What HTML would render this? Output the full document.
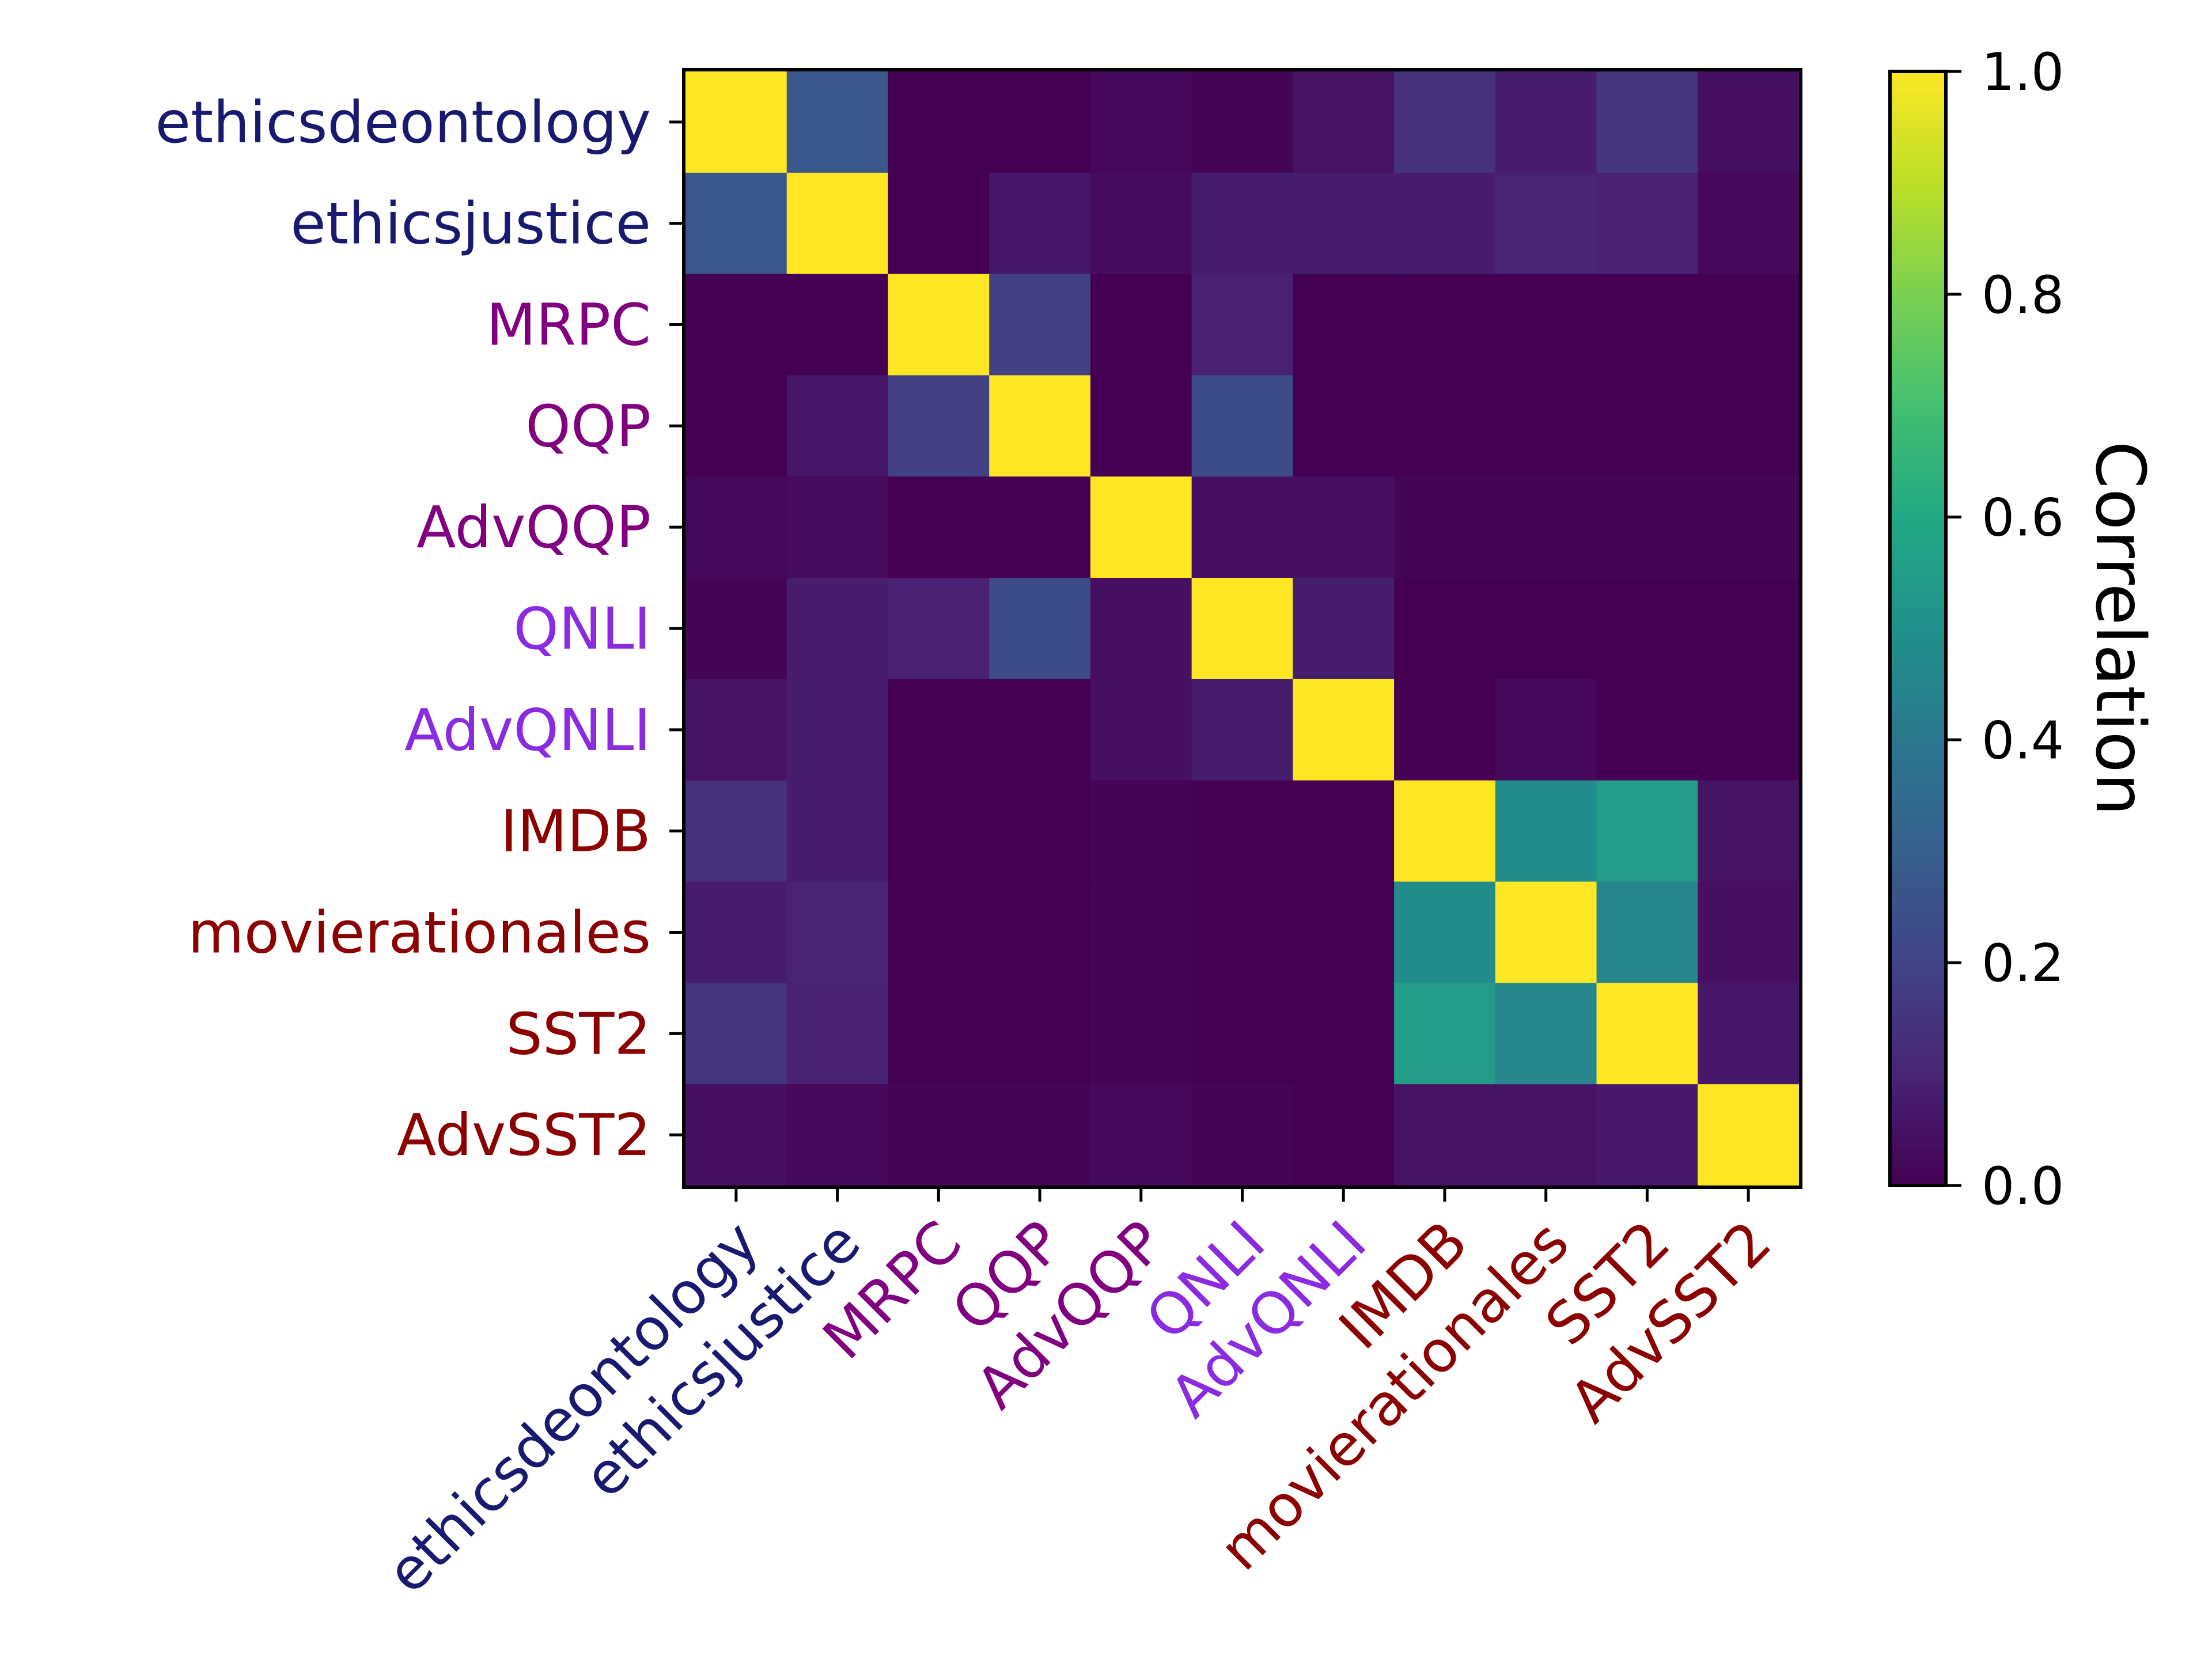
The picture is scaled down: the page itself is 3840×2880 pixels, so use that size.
<!DOCTYPE html>
<html><head><meta charset="utf-8"><style>
html,body{margin:0;padding:0;background:#fff;}
svg{display:block;font-family:"DejaVu Sans","Liberation Sans",sans-serif;}
</style></head><body>
<svg id="chart" width="3840" height="2880" viewBox="0 0 3840 2880" xmlns="http://www.w3.org/2000/svg">
<defs><linearGradient id="vir" x1="0" y1="1" x2="0" y2="0"></linearGradient></defs>
<g id="cells"></g>
<g id="axes"></g>
<g id="cbar"></g>
</svg>
<script>
const categories = ["ethicsdeontology","ethicsjustice","MRPC","QQP","AdvQQP","QNLI","AdvQNLI","IMDB","movierationales","SST2","AdvSST2"];
const labelColors = ["#191970","#191970","#800080","#800080","#800080","#8a2be2","#8a2be2","#8b0000","#8b0000","#8b0000","#8b0000"];
const row0  = [1,0.27,0.0,0.0,0.02,0.01,0.05,0.14,0.08,0.15,0.04];
const row1  = [0.27,1,0.0,0.06,0.03,0.08,0.08,0.08,0.1,0.09,0.02];
const row2  = [0.0,0.0,1,0.19,0.0,0.09,0.0,0.0,0.0,0.0,0.0];
const row3  = [0.0,0.06,0.19,1,0.0,0.23,0.0,0.0,0.0,0.0,0.0];
const row4  = [0.02,0.03,0.0,0.0,1,0.04,0.04,0.01,0.01,0.01,0.01];
const row5  = [0.01,0.08,0.09,0.23,0.04,1,0.08,0.0,0.0,0.0,0.0];
const row6  = [0.05,0.08,0.0,0.0,0.04,0.08,1,0.0,0.02,0.0,0.0];
const row7  = [0.14,0.08,0.0,0.0,0.01,0.0,0.0,1,0.48,0.55,0.05];
const row8  = [0.08,0.1,0.0,0.0,0.01,0.0,0.0,0.48,1,0.45,0.04];
const row9  = [0.15,0.09,0.0,0.0,0.01,0.0,0.0,0.55,0.45,1,0.06];
const row10 = [0.04,0.02,0.01,0.01,0.02,0.01,0.0,0.05,0.05,0.07,1];
const values = [row0,row1,row2,row3,row4,row5,row6,row7,row8,row9,row10];
const cbTicks = [0.0,0.2,0.4,0.6,0.8,1.0];
const cbTickLabels = ["0.0","0.2","0.4","0.6","0.8","1.0"];

const NS="http://www.w3.org/2000/svg";
const X0=1190, Y0=124, X1=3123, Y1=2058;
const n=categories.length, cw=(X1-X0)/n, ch=(Y1-Y0)/n;
const xPos=i=>X0+i*cw, yPos=i=>Y0+i*ch;
const CB_X0=3281, CB_X1=3378;
const cbY=v=>Y1-v*(Y1-Y0);
const vstops=[[0,"#440154"],[0.1,"#482475"],[0.2,"#414487"],[0.3,"#355f8d"],[0.4,"#2a788e"],[0.5,"#21918c"],[0.6,"#22a884"],[0.7,"#44bf70"],[0.8,"#7ad151"],[0.9,"#bddf26"],[1,"#fde725"]];
function hex(h){return [1,3,5].map(k=>parseInt(h.substr(k,2),16));}
function viridis(v){v=Math.max(0,Math.min(1,v));for(let i=1;i<vstops.length;i++){if(v<=vstops[i][0]){const a=vstops[i-1],b=vstops[i];const t=(v-a[0])/(b[0]-a[0]);const ca=hex(a[1]),cb=hex(b[1]);return "rgb("+ca.map((c,k)=>Math.round(c+(cb[k]-c)*t)).join(",")+")";}}return vstops[vstops.length-1][1];}
function mk(tag,attrs,parent){const e=document.createElementNS(NS,tag);for(const k in attrs)e.setAttribute(k,attrs[k]);parent.appendChild(e);return e;}

const cells=document.getElementById("cells");
values.forEach((row,r)=>row.forEach((v,c)=>{
  const e=mk("rect",{x:xPos(c),y:yPos(r),width:cw+0.6,height:ch+0.6,fill:viridis(v)},cells);
  
  
}));
const axes=document.getElementById("axes");
const frame=mk("rect",{x:X0-3,y:Y0-3,width:X1-X0+6,height:Y1-Y0+6,fill:"none",stroke:"#000","stroke-width":6},axes);


categories.forEach((name,i)=>{
  const cy=yPos(i)+ch/2, cx=xPos(i)+cw/2;
  mk("line",{x1:X0-28,x2:X0-3,y1:cy,y2:cy,stroke:"#000","stroke-width":5},axes);
  mk("line",{x1:cx,x2:cx,y1:Y1+3,y2:Y1+28,stroke:"#000","stroke-width":5},axes);
  const yl=mk("text",{x:X0-60,y:cy+35,"text-anchor":"end","font-size":100,fill:labelColors[i]},axes);
  yl.textContent=name;
  
  
  const ax=cx+45, ay=Y1+105;
  const xl=mk("text",{x:ax,y:ay,"text-anchor":"end","font-size":100,fill:labelColors[i],transform:"rotate(-45 "+ax+" "+ay+")"},axes);
  xl.textContent=name;
  
  
});
const grad=document.getElementById("vir");
vstops.forEach(s=>mk("stop",{offset:s[0],"stop-color":s[1]},grad));
const cb=document.getElementById("cbar");
const cbr=mk("rect",{x:CB_X0,y:Y0,width:CB_X1-CB_X0,height:Y1-Y0,fill:"url(#vir)",stroke:"#000","stroke-width":6},cb);


cbTicks.forEach((t,i)=>{
  const y=cbY(t);
  mk("line",{x1:CB_X1,x2:CB_X1+27,y1:y,y2:y,stroke:"#000","stroke-width":5},cb);
  const tl=mk("text",{x:3440,y:y+32,"font-size":90,fill:"#000"},cb);
  tl.textContent=cbTickLabels[i];
  
  
});
const ttl=mk("text",{x:3640,y:(Y0+Y1)/2,"text-anchor":"middle","font-size":118,fill:"#000",transform:"rotate(90 3640 "+((Y0+Y1)/2)+")"},cb);
ttl.textContent="Correlation";


</script>
</body></html>
